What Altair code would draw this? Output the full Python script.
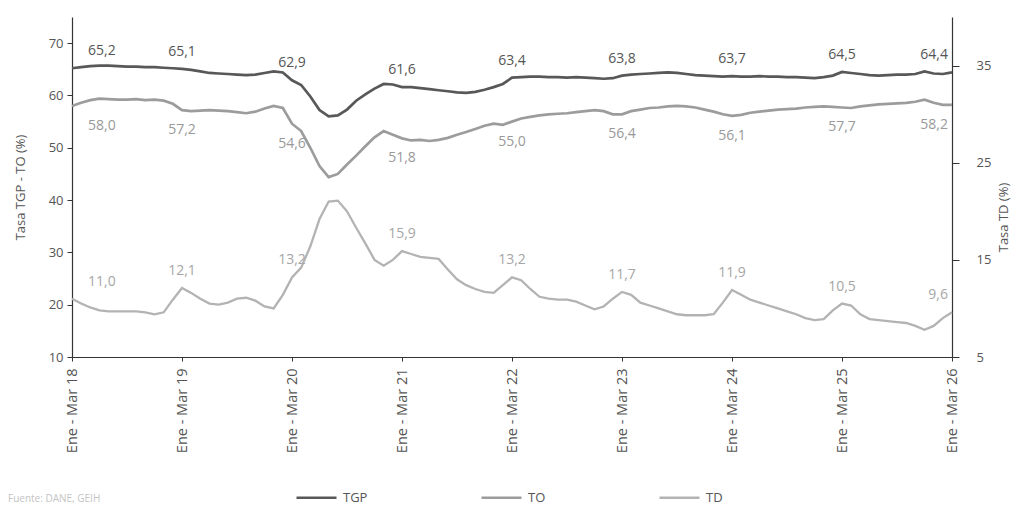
import altair as alt
import pandas as pd

# ---------------- data ----------------
meses_abrev = ["Ene", "Feb", "Mar", "Abr", "May", "Jun", "Jul", "Ago", "Sep", "Oct", "Nov", "Dic"]
anio_inicio = 2018
series = ["TGP", "TO", "TD"]
colores = ["#585858", "#9c9c9c", "#b3b3b3"]
fuente = "Fuente: DANE, GEIH"

tgp = [
    65.2, 65.4, 65.6, 65.7, 65.7, 65.6, 65.5, 65.5, 65.4, 65.4, 65.3, 65.2,
    65.1, 64.9, 64.6, 64.3, 64.2, 64.1, 64.0, 63.9, 64.0, 64.3, 64.6, 64.4,
    62.9, 62.0, 59.8, 57.2, 56.0, 56.2, 57.3, 59.0, 60.2, 61.3, 62.2, 62.1,
    61.6, 61.6, 61.4, 61.2, 61.0, 60.8, 60.6, 60.5, 60.7, 61.1, 61.6, 62.2,
    63.4, 63.5, 63.6, 63.6, 63.5, 63.5, 63.4, 63.5, 63.4, 63.3, 63.2, 63.3,
    63.8, 64.0, 64.1, 64.2, 64.3, 64.4, 64.3, 64.1, 63.9, 63.8, 63.7, 63.6,
    63.7, 63.6, 63.6, 63.7, 63.6, 63.6, 63.5, 63.5, 63.4, 63.3, 63.5, 63.8,
    64.5, 64.3, 64.1, 63.9, 63.8, 63.9, 64.0, 64.0, 64.1, 64.6, 64.2, 64.1,
    64.4,
]
to = [
    58.0, 58.6, 59.1, 59.4, 59.3, 59.2, 59.2, 59.3, 59.1, 59.2, 59.0, 58.4,
    57.2, 57.0, 57.1, 57.2, 57.1, 57.0, 56.8, 56.6, 56.9, 57.5, 58.0, 57.6,
    54.6, 53.2, 50.0, 46.5, 44.4, 45.0, 46.8, 48.5, 50.3, 52.0, 53.2, 52.5,
    51.8, 51.4, 51.5, 51.3, 51.5, 51.9, 52.5, 53.0, 53.6, 54.2, 54.6, 54.4,
    55.0, 55.6, 55.9, 56.2, 56.4, 56.5, 56.6, 56.8, 57.0, 57.2, 57.0, 56.4,
    56.4, 57.0, 57.3, 57.6, 57.7, 57.9, 58.0, 57.9, 57.7, 57.3, 56.9, 56.4,
    56.1, 56.3, 56.7, 56.9, 57.1, 57.3, 57.4, 57.5, 57.7, 57.8, 57.9, 57.8,
    57.7, 57.6, 57.9, 58.1, 58.3, 58.4, 58.5, 58.6, 58.8, 59.2, 58.6, 58.2,
    58.2,
]
td = [
    11.0, 10.5, 10.1, 9.8, 9.7, 9.7, 9.7, 9.7, 9.6, 9.4, 9.6, 10.9,
    12.1, 11.6, 11.0, 10.5, 10.4, 10.6, 11.0, 11.1, 10.8, 10.2, 10.0, 11.4,
    13.2, 14.2, 16.4, 19.2, 21.0, 21.1, 20.0, 18.3, 16.7, 15.0, 14.4, 15.0,
    15.9, 15.6, 15.3, 15.2, 15.1, 14.0, 13.0, 12.4, 12.0, 11.7, 11.6, 12.4,
    13.2, 12.9, 12.0, 11.2, 11.0, 10.9, 10.9, 10.7, 10.3, 9.9, 10.2, 11.0,
    11.7, 11.4, 10.6, 10.3, 10.0, 9.7, 9.4, 9.3, 9.3, 9.3, 9.4, 10.6,
    11.9, 11.4, 10.9, 10.6, 10.3, 10.0, 9.7, 9.4, 9.0, 8.8, 8.9, 9.8,
    10.5, 10.3, 9.4, 8.9, 8.8, 8.7, 8.6, 8.5, 8.2, 7.8, 8.2, 9.0,
    9.6,
]

n = len(tgp)


def etiqueta(k):
    m = k % 12
    anio_fin = anio_inicio + (k + 2) // 12
    return f"{meses_abrev[m]} - {meses_abrev[(m + 2) % 12]} {str(anio_fin)[2:]}"


periodos = [etiqueta(k) for k in range(n)]
ticks_x = [periodos[k] for k in range(0, n, 12)]

rows = []
for nombre, valores in zip(series, [tgp, to, td]):
    for k, v in enumerate(valores):
        rows.append({"periodo": periodos[k], "i": k, "serie": nombre, "valor": v,
                     "txt": f"{v:.1f}".replace(".", ",")})
df = pd.DataFrame(rows)

# ---------------- chart ----------------
FONT = "Open Sans"

x_enc = alt.X(
    "periodo:O",
    sort=periodos,
    scale=alt.Scale(type="point", padding=0),
    axis=alt.Axis(
        values=ticks_x, labelAngle=-90, title=None, labelFontSize=14.5,
        labelColor="#555555", labelFont=FONT, labelPadding=7, tickSize=4,
        tickColor="#333333", domainColor="#333333", domainWidth=1.2,
        labelOverlap=False,
    ),
)

color_enc = alt.Color(
    "serie:N",
    scale=alt.Scale(domain=series, range=colores),
    legend=alt.Legend(
        orient="none", legendX=223, legendY=459, direction="horizontal",
        title=None, symbolType="stroke", symbolSize=1600, symbolStrokeWidth=2.5,
        labelFontSize=13, labelColor="#555555", labelFont=FONT, labelOffset=5,
        columnPadding=108,
    ),
)


def etiquetas(serie, color, dy):
    base = alt.Chart(df).transform_filter(
        (alt.datum.serie == serie) & (alt.datum.i % 12 == 0)
    )
    medio = base.transform_filter((alt.datum.i > 0) & (alt.datum.i < n - 1)).mark_text(
        align="center", baseline="middle", dy=dy, fontSize=14, font=FONT, color=color
    ).encode(text="txt:N")
    primero = base.transform_filter(alt.datum.i == 0).mark_text(
        align="left", baseline="middle", dx=16, dy=dy, fontSize=14, font=FONT, color=color
    ).encode(text="txt:N")
    ultimo = base.transform_filter(alt.datum.i == n - 1).mark_text(
        align="right", baseline="middle", dx=-4, dy=dy, fontSize=14, font=FONT, color=color
    ).encode(text="txt:N")
    return [medio, primero, ultimo]


y_izq = alt.Y(
    "valor:Q",
    scale=alt.Scale(domain=[10, 75], nice=False, zero=False),
    axis=alt.Axis(
        values=[10, 20, 30, 40, 50, 60, 70], orient="left", grid=False,
        title="Tasa TGP - TO (%)", titleFontSize=13, titleFontWeight="normal",
        titleColor="#555555", titleFont=FONT, titlePadding=21,
        labelFontSize=13, labelColor="#555555", labelFont=FONT, labelPadding=4,
        tickSize=5, tickColor="#333333", domainColor="#333333", domainWidth=1.2,
    ),
)

lineas_izq = alt.Chart(df).transform_filter(
    alt.FieldOneOfPredicate(field="serie", oneOf=["TGP", "TO"])
).mark_line(strokeWidth=2.7).encode(color=color_enc, detail="serie:N")

capa_izq = alt.layer(
    lineas_izq,
    *etiquetas("TGP", "#555555", -17),
    *etiquetas("TO", "#999999", 20),
).encode(x=x_enc, y=y_izq)

y_der = alt.Y(
    "valor:Q",
    scale=alt.Scale(domain=[5, 40], nice=False, zero=False),
    axis=alt.Axis(
        values=[5, 15, 25, 35], orient="right", grid=False,
        title="Tasa TD (%)", titleFontSize=13, titleFontWeight="normal",
        titleColor="#555555", titleFont=FONT, titlePadding=20, titleAngle=270,
        titleY=200,
        labelFontSize=13, labelColor="#555555", labelFont=FONT, labelPadding=17,
        tickSize=7, tickColor="#333333", domainColor="#333333", domainWidth=1.2,
    ),
)

linea_der = alt.Chart(df).transform_filter(alt.datum.serie == "TD").mark_line(
    strokeWidth=2.3
).encode(color=color_enc)

capa_der = alt.layer(
    linea_der,
    *etiquetas("TD", "#a6a6a6", -17),
).encode(x=x_enc, y=y_der)

pie = alt.Chart(pd.DataFrame({"t": [fuente]})).mark_text(
    align="left", baseline="middle", fontSize=10, font=FONT, color="#c4c4c4"
).encode(text="t:N", x=alt.value(-64), y=alt.value(482))

chart = alt.layer(capa_izq, capa_der, pie).resolve_scale(y="independent").properties(
    width=880,
    height=340,
    autosize=alt.AutoSizeParams(type="none"),
    padding={"left": 64, "top": 9, "right": 64, "bottom": 150},
    background="white",
).configure_view(stroke=None)

chart.save("out.html", embed_options={"renderer": "svg", "actions": False})
